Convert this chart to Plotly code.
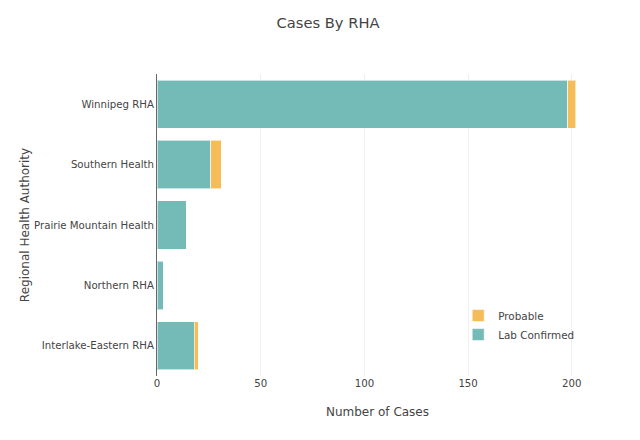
import plotly.graph_objects as go

regions = ["Interlake-Eastern RHA", "Northern RHA", "Prairie Mountain Health",
           "Southern Health", "Winnipeg RHA"]
lab_confirmed = [18, 3, 14, 26, 198]
probable = [2, 0, 0, 5, 4]

FONT = "DejaVu Sans"
fig = go.Figure()
fig.add_trace(go.Bar(y=regions, x=lab_confirmed, orientation="h", name="Lab Confirmed",
                     marker=dict(color="#74BBB8", line=dict(color="rgba(255,255,255,0.6)", width=1))))
fig.add_trace(go.Bar(y=regions, x=probable, orientation="h", name="Probable",
                     marker=dict(color="#F5BC58", line=dict(color="rgba(255,255,255,0.6)", width=1))))

fig.update_layout(
    width=640, height=440,
    barmode="stack", bargap=0.2,
    paper_bgcolor="white", plot_bgcolor="white",
    font=dict(family=FONT, size=10.2, color="#444"),
    title=dict(text="Cases By RHA", x=0.5, xanchor="center", y=0.966, yanchor="middle",
               font=dict(family=FONT, size=14.7, color="#444")),
    margin=dict(l=149, r=50, t=66, b=72),
    xaxis=dict(title=dict(text="Number of Cases", font=dict(size=12), standoff=19),
               showgrid=True, gridcolor="#eeeeee", zeroline=False, tickvals=[0, 50, 100, 150, 200],
               ticks="", showline=False),
    yaxis=dict(title=dict(text="Regional Health Authority", font=dict(size=12), standoff=1),
               showline=True, linecolor="#666", linewidth=1, ticks="", showgrid=False),
    legend=dict(x=0.683, y=0.248, xanchor="left", yanchor="top", traceorder="reversed",
                font=dict(size=10.4), bgcolor="rgba(0,0,0,0)"),
)
fig.write_html("out.html")
